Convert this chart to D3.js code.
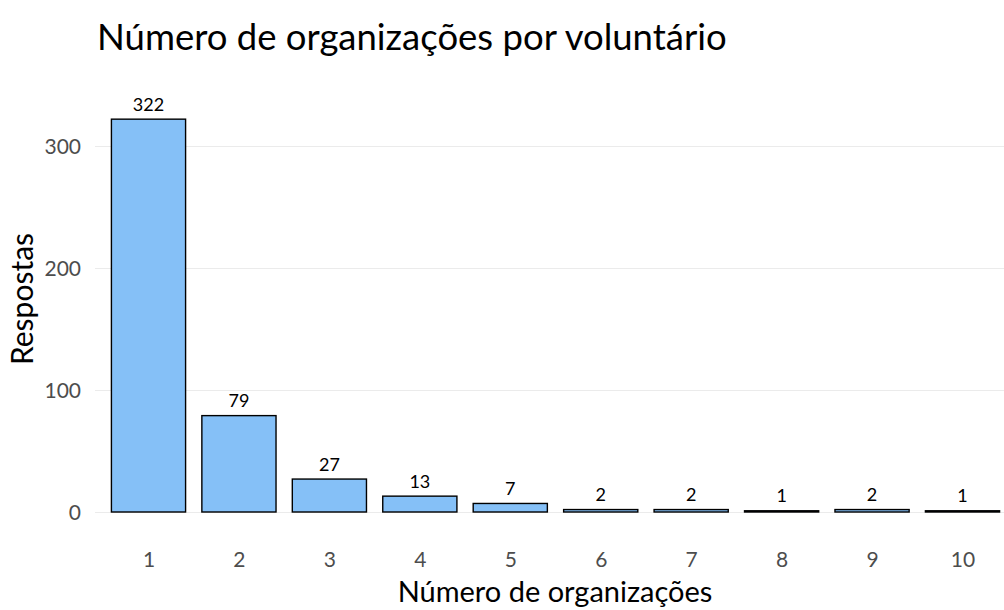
<!DOCTYPE html>
<html>
<head>
<meta charset="utf-8">
<script src="https://cdn.jsdelivr.net/npm/d3@7"></script>
<style>
  body { margin: 0; background: #fff; }
  text { font-family: Lato, "Open Sans", sans-serif; }
  .grid line { stroke: #ebebeb; stroke-width: 1.1; }
  .grid path { display: none; }
  .axis path, .axis line { display: none; }
  .axis text { fill: #4d4d4d; font-size: 21px; }
</style>
</head>
<body>
<div id="chart"></div>
<script>

// data
var categories = ["1", "2", "3", "4", "5", "6", "7", "8", "9", "10"];
var respostas = [322, 79, 27, 13, 7, 2, 2, 1, 2, 1];
var y_ticks = [0, 100, 200, 300];

var width = 1004;
var height = 610;

var svg = d3.select("#chart")
  .append("svg")
    .attr("width", width)
    .attr("height", height);

// x scale: centres of the bars
var x_scale = d3.scalePoint()
  .domain(categories)
  .range([148.5, 962.5]);

var bar_width = x_scale.step() * 0.82;

// y scale
var y_scale = d3.scaleLinear()
  .domain([0, 300])
  .range([512, 146]);

// grid lines
svg.append("g")
  .attr("class", "grid")
  .attr("transform", "translate(95,0)")
  .call(d3.axisLeft(y_scale)
    .tickValues(y_ticks)
    .tickSize(-(width - 95))
    .tickFormat(""));

// bars
svg.selectAll("rect.bar")
  .data(respostas)
  .enter()
  .append("rect")
    .attr("class", "bar")
    .attr("x", function(d, i) { return x_scale(categories[i]) - bar_width / 2; })
    .attr("y", function(d) { return y_scale(d); })
    .attr("width", bar_width)
    .attr("height", function(d) { return y_scale(0) - y_scale(d); })
    .attr("fill", "#85c0f7")
    .attr("stroke", "#000")
    .attr("stroke-width", 1.4);

// value labels
svg.selectAll("text.label")
  .data(respostas)
  .enter()
  .append("text")
    .attr("class", "label")
    .attr("x", function(d, i) { return x_scale(categories[i]); })
    .attr("y", function(d) { return y_scale(d) - 8.5; })
    .attr("text-anchor", "middle")
    .attr("font-size", 18)
    .attr("fill", "#000")
    .text(function(d) { return d; });

// x axis
svg.append("g")
  .attr("class", "axis")
  .attr("transform", "translate(0,552)")
  .call(d3.axisBottom(x_scale).tickSize(0).tickPadding(0));

// y axis
svg.append("g")
  .attr("class", "axis")
  .attr("transform", "translate(81,0)")
  .call(d3.axisLeft(y_scale).tickValues(y_ticks).tickSize(0).tickPadding(0))
  .selectAll("text")
    .attr("dy", "0.36em");

// title
svg.append("text")
  .attr("x", 97)
  .attr("y", 50)
  .attr("font-size", 36.5)
  .attr("fill", "#000")
  .text("Número de organizações por voluntário");

// x axis title
svg.append("text")
  .attr("x", 555)
  .attr("y", 602)
  .attr("text-anchor", "middle")
  .attr("font-size", 29)
  .attr("fill", "#000")
  .text("Número de organizações");

// y axis title
svg.append("text")
  .attr("transform", "translate(33,299) rotate(-90)")
  .attr("text-anchor", "middle")
  .attr("font-size", 30)
  .attr("fill", "#000")
  .text("Respostas");

</script>
</body>
</html>
